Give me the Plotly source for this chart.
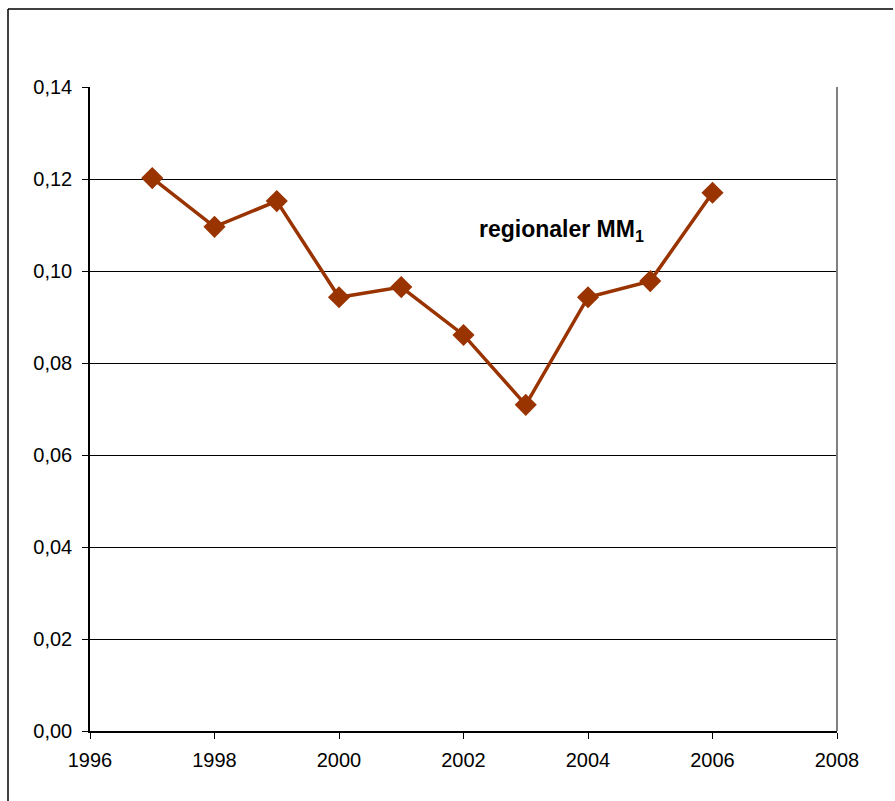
import plotly.graph_objects as go

years = [1997, 1998, 1999, 2000, 2001, 2002, 2003, 2004, 2005, 2006]
values = [0.1202, 0.1096, 0.1152, 0.0943, 0.0965, 0.0861, 0.0709, 0.0943, 0.0978, 0.1170]
y_ticks = [0.00, 0.02, 0.04, 0.06, 0.08, 0.10, 0.12, 0.14]
y_tick_labels = ["0,00", "0,02", "0,04", "0,06", "0,08", "0,10", "0,12", "0,14"]
x_ticks = [1996, 1998, 2000, 2002, 2004, 2006, 2008]
series_label = "regionaler MM<sub>1</sub>"

W, H = 895, 801
L, R, T, B = 90, 58, 87, 70
pw, ph = W - L - R, H - T - B

def px_x(p):
    return (p - L) / pw

def px_y(p):
    return (H - B - p) / ph

fig = go.Figure()
fig.add_trace(go.Scatter(
    x=years, y=values, mode="lines+markers",
    line=dict(color="#993300", width=3.5),
    marker=dict(symbol="diamond", size=17, color="#993300"),
    showlegend=False,
))

fig.add_annotation(
    x=2002.22, y=0.1087, xref="x", yref="y", xanchor="left", yanchor="middle",
    text="<b>" + series_label + "</b>", showarrow=False,
    font=dict(family="Liberation Sans, Arial", size=23, color="black"),
)

# outer chart frame (left and top edges visible)
fig.add_shape(type="line", xref="paper", yref="paper",
              x0=px_x(8), x1=px_x(8), y0=px_y(9), y1=px_y(H + 5),
              line=dict(color="black", width=1.5))
fig.add_shape(type="line", xref="paper", yref="paper",
              x0=px_x(8), x1=px_x(893), y0=px_y(9), y1=px_y(9),
              line=dict(color="black", width=1.5))
# right plot-area border (gray)
fig.add_shape(type="line", xref="paper", yref="paper",
              x0=1, x1=1, y0=0, y1=1, line=dict(color="#808080", width=2))

fig.update_xaxes(
    range=[1996, 2008], tickvals=x_ticks, ticktext=[str(v) for v in x_ticks],
    showgrid=False, showline=True, linecolor="black", linewidth=2,
    ticks="outside", ticklen=6, tickcolor="black", tickwidth=1,
    ticklabelstandoff=4,
    tickfont=dict(family="Liberation Sans, Arial", size=20, color="black"),
    zeroline=False,
)
fig.update_yaxes(
    range=[0, 0.14], tickvals=y_ticks, ticktext=y_tick_labels,
    showgrid=True, gridcolor="black", gridwidth=1,
    showline=True, linecolor="black", linewidth=1.5,
    ticks="outside", ticklen=6, tickcolor="black", tickwidth=1,
    ticklabelstandoff=6,
    tickfont=dict(family="Liberation Sans, Arial", size=20, color="black"),
    zeroline=False,
)
fig.update_layout(
    width=W, height=H, margin=dict(l=L, r=R, t=T, b=B, autoexpand=False),
    paper_bgcolor="white", plot_bgcolor="white",
)
fig.write_html("out.html")
